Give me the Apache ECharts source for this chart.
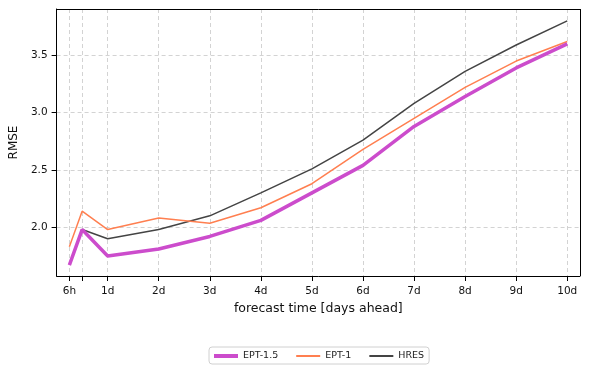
<html>
<head>
<meta charset="utf-8" />
<script src="https://cdn.jsdelivr.net/npm/echarts@6/dist/echarts.min.js"></script>
<style type="text/css">
	html, body, #main {
	width: 100%;
	height: 100%;
	margin: 0;
	background: #fff;
}
</style>
</head>
<body>
	<div id='main'></div>
	<script>
		var chart = echarts.init(document.getElementById('main'));

		// lead times in days
		var leadDays = [0.25, 0.5, 1, 2, 3, 4, 5, 6, 7, 8, 9, 10];
		var ept15 = [1.67, 1.98, 1.75, 1.81, 1.92, 2.06, 2.30, 2.54, 2.88, 3.14, 3.39, 3.60];
		var ept1 = [1.83, 2.14, 1.98, 2.08, 2.035, 2.17, 2.38, 2.68, 2.95, 3.22, 3.45, 3.62];
		var hres = [null, 1.98, 1.90, 1.98, 2.10, 2.30, 2.51, 2.76, 3.08, 3.36, 3.59, 3.80];

		var xTicks = [0.25, 0.5, 1, 2, 3, 4, 5, 6, 7, 8, 9, 10];
		var xTickLabels = ['6h', '', '1d', '2d', '3d', '4d', '5d', '6d', '7d', '8d', '9d', '10d'];
		var yTicks = [2.0, 2.5, 3.0, 3.5];

		function pairs(vals) {
			var out = [];
			for (var i = 0; i < leadDays.length; i++) {
				if (vals[i] != null) out.push([leadDays[i], vals[i]]);
			}
			return out;
		}

		var font = 'DejaVu Sans';
		var gridLine = { show: true, lineStyle: { color: '#c8c8c8', type: [4, 3], width: 0.8 } };

		var option = {
			animation: false,
			textStyle: { fontFamily: font },
			grid: { left: 56, right: 10, top: 9, bottom: 99 },
			legend: {
				left: 209, top: 347,
				padding: [4, 5, 3, 3],
				itemGap: 17,
				itemWidth: 24, itemHeight: 10,
				itemStyle: { opacity: 0 },
				borderColor: '#d0d0d0', borderWidth: 1, borderRadius: 3,
				textStyle: { fontFamily: font, fontSize: 9.5, color: '#222' },
				data: [
					{ name: 'EPT-1.5', lineStyle: { width: 4 } },
					{ name: 'EPT-1', lineStyle: { width: 2 } },
					{ name: 'HRES', lineStyle: { width: 2 } }
				]
			},
			xAxis: {
				type: 'value', min: 0, max: 10.25,
				name: 'forecast time [days ahead]',
				nameLocation: 'middle', nameGap: 26,
				nameTextStyle: { fontFamily: font, fontSize: 12.5, color: '#111' },
				axisLine: { onZero: false, lineStyle: { color: '#000', width: 1 } },
				axisTick: { show: true, customValues: xTicks, length: 5, lineStyle: { color: '#000' } },
				axisLabel: {
					customValues: xTicks, fontSize: 10.5, color: '#111', margin: 10,
					formatter: function (v) {
						var i = xTicks.indexOf(v);
						return i >= 0 ? xTickLabels[i] : '';
					}
				},
				splitLine: gridLine
			},
			yAxis: {
				type: 'value', min: 1.575, max: 3.904,
				name: 'RMSE',
				nameLocation: 'middle', nameGap: 32,
				nameTextStyle: { fontFamily: font, fontSize: 12, color: '#111' },
				axisLine: { show: true, lineStyle: { color: '#000', width: 1 } },
				axisTick: { show: true, customValues: yTicks, length: 5, lineStyle: { color: '#000' } },
				axisLabel: {
					customValues: yTicks, fontSize: 10.5, color: '#111', margin: 9,
					formatter: function (v) { return v.toFixed(1); }
				},
				splitLine: gridLine
			},
			series: [
				{ name: 'EPT-1.5', type: 'line', data: pairs(ept15), symbol: 'none', z: 5,
					lineStyle: { color: '#cc4ccc', width: 3.5 }, itemStyle: { color: '#cc4ccc' } },
				{ name: 'EPT-1', type: 'line', data: pairs(ept1), symbol: 'none', z: 4,
					lineStyle: { color: '#ff7f50', width: 1.5 }, itemStyle: { color: '#ff7f50' } },
				{ name: 'HRES', type: 'line', data: pairs(hres), symbol: 'none', z: 3,
					lineStyle: { color: '#444444', width: 1.5 }, itemStyle: { color: '#444444' } },
				{ type: 'line', data: [], silent: true,
					markLine: { silent: true, symbol: 'none', label: { show: false },
						lineStyle: { color: '#000', width: 1, type: 'solid' },
						data: [{ xAxis: 10.25 }, { yAxis: 3.904 }] } }
			]
		};

		chart.setOption(option);

		window.onresize = function() {
			chart.resize();
		}
	</script>
</body>
</html>
